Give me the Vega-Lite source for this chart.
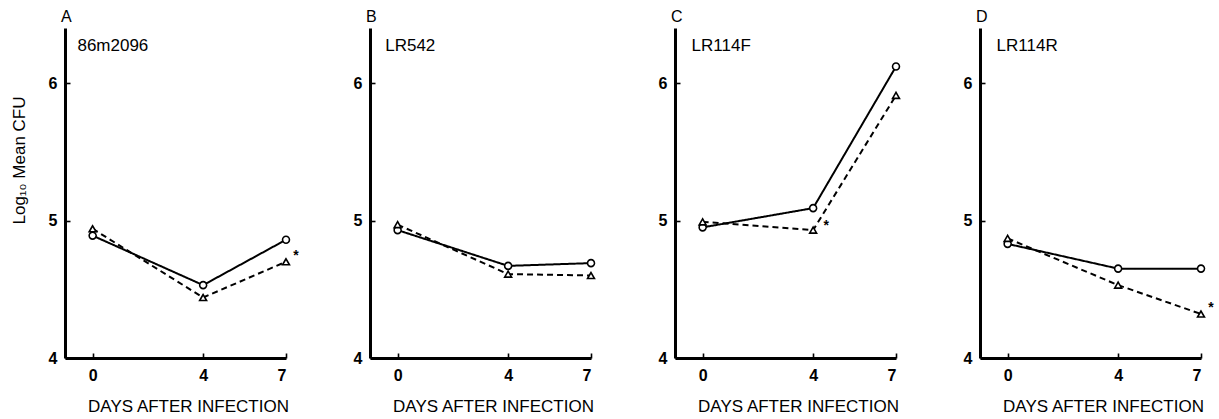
{
  "$schema": "https://vega.github.io/schema/vega-lite/v6.json",
  "background": "white",
  "padding": {"left": 10, "top": 9, "right": 5, "bottom": 0},
  "data": {"values": [
    {"panel": "A", "strain": "86m2096", "day": 0, "group": "Group 1", "value": 4.89, "sig": ""},
    {"panel": "A", "strain": "86m2096", "day": 4, "group": "Group 1", "value": 4.53, "sig": ""},
    {"panel": "A", "strain": "86m2096", "day": 7, "group": "Group 1", "value": 4.86, "sig": ""},
    {"panel": "A", "strain": "86m2096", "day": 0, "group": "Group 2", "value": 4.94, "sig": ""},
    {"panel": "A", "strain": "86m2096", "day": 4, "group": "Group 2", "value": 4.44, "sig": ""},
    {"panel": "A", "strain": "86m2096", "day": 7, "group": "Group 2", "value": 4.70, "sig": "*"},
    {"panel": "B", "strain": "LR542", "day": 0, "group": "Group 1", "value": 4.93, "sig": ""},
    {"panel": "B", "strain": "LR542", "day": 4, "group": "Group 1", "value": 4.67, "sig": ""},
    {"panel": "B", "strain": "LR542", "day": 7, "group": "Group 1", "value": 4.69, "sig": ""},
    {"panel": "B", "strain": "LR542", "day": 0, "group": "Group 2", "value": 4.97, "sig": ""},
    {"panel": "B", "strain": "LR542", "day": 4, "group": "Group 2", "value": 4.61, "sig": ""},
    {"panel": "B", "strain": "LR542", "day": 7, "group": "Group 2", "value": 4.60, "sig": ""},
    {"panel": "C", "strain": "LR114F", "day": 0, "group": "Group 1", "value": 4.95, "sig": ""},
    {"panel": "C", "strain": "LR114F", "day": 4, "group": "Group 1", "value": 5.09, "sig": ""},
    {"panel": "C", "strain": "LR114F", "day": 7, "group": "Group 1", "value": 6.12, "sig": ""},
    {"panel": "C", "strain": "LR114F", "day": 0, "group": "Group 2", "value": 4.99, "sig": ""},
    {"panel": "C", "strain": "LR114F", "day": 4, "group": "Group 2", "value": 4.93, "sig": "*"},
    {"panel": "C", "strain": "LR114F", "day": 7, "group": "Group 2", "value": 5.91, "sig": ""},
    {"panel": "D", "strain": "LR114R", "day": 0, "group": "Group 1", "value": 4.83, "sig": ""},
    {"panel": "D", "strain": "LR114R", "day": 4, "group": "Group 1", "value": 4.65, "sig": ""},
    {"panel": "D", "strain": "LR114R", "day": 7, "group": "Group 1", "value": 4.65, "sig": ""},
    {"panel": "D", "strain": "LR114R", "day": 0, "group": "Group 2", "value": 4.87, "sig": ""},
    {"panel": "D", "strain": "LR114R", "day": 4, "group": "Group 2", "value": 4.53, "sig": ""},
    {"panel": "D", "strain": "LR114R", "day": 7, "group": "Group 2", "value": 4.32, "sig": "*"}
  ]},
  "spacing": 84,
  "bounds": "flush",
  "hconcat": [
    {
      "width": 221, "height": 330,
      "title": {"text": "A"},
      "transform": [{"filter": "datum.panel === 'A'"}],
      "encoding": {
        "x": {"field": "day", "type": "quantitative", "scale": {"domain": [-1, 7], "nice": false, "zero": false},
              "axis": {"values": [0, 4, 7], "title": "DAYS AFTER INFECTION"}},
        "y": {"field": "value", "type": "quantitative", "scale": {"domain": [4, 6.4], "nice": false, "zero": false},
              "axis": {"values": [4, 5, 6], "title": "Log₁₀ Mean CFU", "titlePadding": 20, "titleFontSize": 17, "titleY": 132}}
      },
      "layer": [
        {"mark": {"type": "line", "color": "black", "strokeWidth": 2},
         "encoding": {"strokeDash": {"field": "group", "type": "nominal", "scale": {"domain": ["Group 1", "Group 2"], "range": [[1, 0], [6, 4]]}, "legend": null}}},
        {"mark": {"type": "point", "filled": true, "fill": "white", "stroke": "black", "strokeWidth": 1.6, "size": 48, "opacity": 1},
         "encoding": {"shape": {"field": "group", "type": "nominal", "scale": {"domain": ["Group 1", "Group 2"], "range": ["circle", "triangle-up"]}, "legend": null}}},
        {"mark": {"type": "text", "dx": 10, "dy": -6, "fontSize": 14, "fontWeight": "bold", "color": "black"},
         "encoding": {"text": {"field": "sig"}}},
        {"transform": [{"filter": "datum.day === 0 && datum.group === 'Group 1'"}],
         "mark": {"type": "text", "align": "left", "baseline": "middle", "fontSize": 17, "color": "black"},
         "encoding": {"x": {"datum": -0.55}, "y": {"datum": 6.27}, "text": {"field": "strain"}}}
      ]
    },
    {
      "width": 221, "height": 330,
      "title": {"text": "B"},
      "transform": [{"filter": "datum.panel === 'B'"}],
      "encoding": {
        "x": {"field": "day", "type": "quantitative", "scale": {"domain": [-1, 7], "nice": false, "zero": false},
              "axis": {"values": [0, 4, 7], "title": "DAYS AFTER INFECTION"}},
        "y": {"field": "value", "type": "quantitative", "scale": {"domain": [4, 6.4], "nice": false, "zero": false},
              "axis": {"values": [4, 5, 6], "title": null}}
      },
      "layer": [
        {"mark": {"type": "line", "color": "black", "strokeWidth": 2},
         "encoding": {"strokeDash": {"field": "group", "type": "nominal", "scale": {"domain": ["Group 1", "Group 2"], "range": [[1, 0], [6, 4]]}, "legend": null}}},
        {"mark": {"type": "point", "filled": true, "fill": "white", "stroke": "black", "strokeWidth": 1.6, "size": 48, "opacity": 1},
         "encoding": {"shape": {"field": "group", "type": "nominal", "scale": {"domain": ["Group 1", "Group 2"], "range": ["circle", "triangle-up"]}, "legend": null}}},
        {"mark": {"type": "text", "dx": 10, "dy": -6, "fontSize": 14, "fontWeight": "bold", "color": "black"},
         "encoding": {"text": {"field": "sig"}}},
        {"transform": [{"filter": "datum.day === 0 && datum.group === 'Group 1'"}],
         "mark": {"type": "text", "align": "left", "baseline": "middle", "fontSize": 17, "color": "black"},
         "encoding": {"x": {"datum": -0.45}, "y": {"datum": 6.27}, "text": {"field": "strain"}}}
      ]
    },
    {
      "width": 221, "height": 330,
      "title": {"text": "C"},
      "transform": [{"filter": "datum.panel === 'C'"}],
      "encoding": {
        "x": {"field": "day", "type": "quantitative", "scale": {"domain": [-1, 7], "nice": false, "zero": false},
              "axis": {"values": [0, 4, 7], "title": "DAYS AFTER INFECTION"}},
        "y": {"field": "value", "type": "quantitative", "scale": {"domain": [4, 6.4], "nice": false, "zero": false},
              "axis": {"values": [4, 5, 6], "title": null}}
      },
      "layer": [
        {"mark": {"type": "line", "color": "black", "strokeWidth": 2},
         "encoding": {"strokeDash": {"field": "group", "type": "nominal", "scale": {"domain": ["Group 1", "Group 2"], "range": [[1, 0], [6, 4]]}, "legend": null}}},
        {"mark": {"type": "point", "filled": true, "fill": "white", "stroke": "black", "strokeWidth": 1.6, "size": 48, "opacity": 1},
         "encoding": {"shape": {"field": "group", "type": "nominal", "scale": {"domain": ["Group 1", "Group 2"], "range": ["circle", "triangle-up"]}, "legend": null}}},
        {"mark": {"type": "text", "dx": 13, "dy": -4, "fontSize": 14, "fontWeight": "bold", "color": "black"},
         "encoding": {"text": {"field": "sig"}}},
        {"transform": [{"filter": "datum.day === 0 && datum.group === 'Group 1'"}],
         "mark": {"type": "text", "align": "left", "baseline": "middle", "fontSize": 17, "color": "black"},
         "encoding": {"x": {"datum": -0.4}, "y": {"datum": 6.27}, "text": {"field": "strain"}}}
      ]
    },
    {
      "width": 221, "height": 330,
      "title": {"text": "D"},
      "transform": [{"filter": "datum.panel === 'D'"}],
      "encoding": {
        "x": {"field": "day", "type": "quantitative", "scale": {"domain": [-1, 7], "nice": false, "zero": false},
              "axis": {"values": [0, 4, 7], "title": "DAYS AFTER INFECTION"}},
        "y": {"field": "value", "type": "quantitative", "scale": {"domain": [4, 6.4], "nice": false, "zero": false},
              "axis": {"values": [4, 5, 6], "title": null}}
      },
      "layer": [
        {"mark": {"type": "line", "color": "black", "strokeWidth": 2},
         "encoding": {"strokeDash": {"field": "group", "type": "nominal", "scale": {"domain": ["Group 1", "Group 2"], "range": [[1, 0], [6, 4]]}, "legend": null}}},
        {"mark": {"type": "point", "filled": true, "fill": "white", "stroke": "black", "strokeWidth": 1.6, "size": 48, "opacity": 1},
         "encoding": {"shape": {"field": "group", "type": "nominal", "scale": {"domain": ["Group 1", "Group 2"], "range": ["circle", "triangle-up"]}, "legend": null}}},
        {"mark": {"type": "text", "dx": 10, "dy": -6, "fontSize": 14, "fontWeight": "bold", "color": "black"},
         "encoding": {"text": {"field": "sig"}}},
        {"transform": [{"filter": "datum.day === 0 && datum.group === 'Group 1'"}],
         "mark": {"type": "text", "align": "left", "baseline": "middle", "fontSize": 17, "color": "black"},
         "encoding": {"x": {"datum": -0.4}, "y": {"datum": 6.27}, "text": {"field": "strain"}}}
      ]
    }
  ],
  "config": {
    "font": "Liberation Sans",
    "view": {"stroke": null},
    "title": {"anchor": "start", "frame": "group", "fontSize": 16, "fontWeight": "normal", "offset": 3, "dx": -4, "color": "black", "font": "Liberation Sans"},
    "axis": {
      "grid": false,
      "domainColor": "black", "domainWidth": 3,
      "tickColor": "black", "tickWidth": 1.6, "tickSize": -5,
      "labelColor": "black", "labelFont": "Liberation Sans", "labelFontSize": 16, "labelFontWeight": "bold",
      "titleColor": "black", "titleFont": "Liberation Sans", "titleFontWeight": "normal"
    },
    "axisY": {"labelPadding": 13},
    "axisX": {"labelPadding": 14, "titlePadding": 15, "titleFontSize": 17, "titleX": 123}
  }
}
